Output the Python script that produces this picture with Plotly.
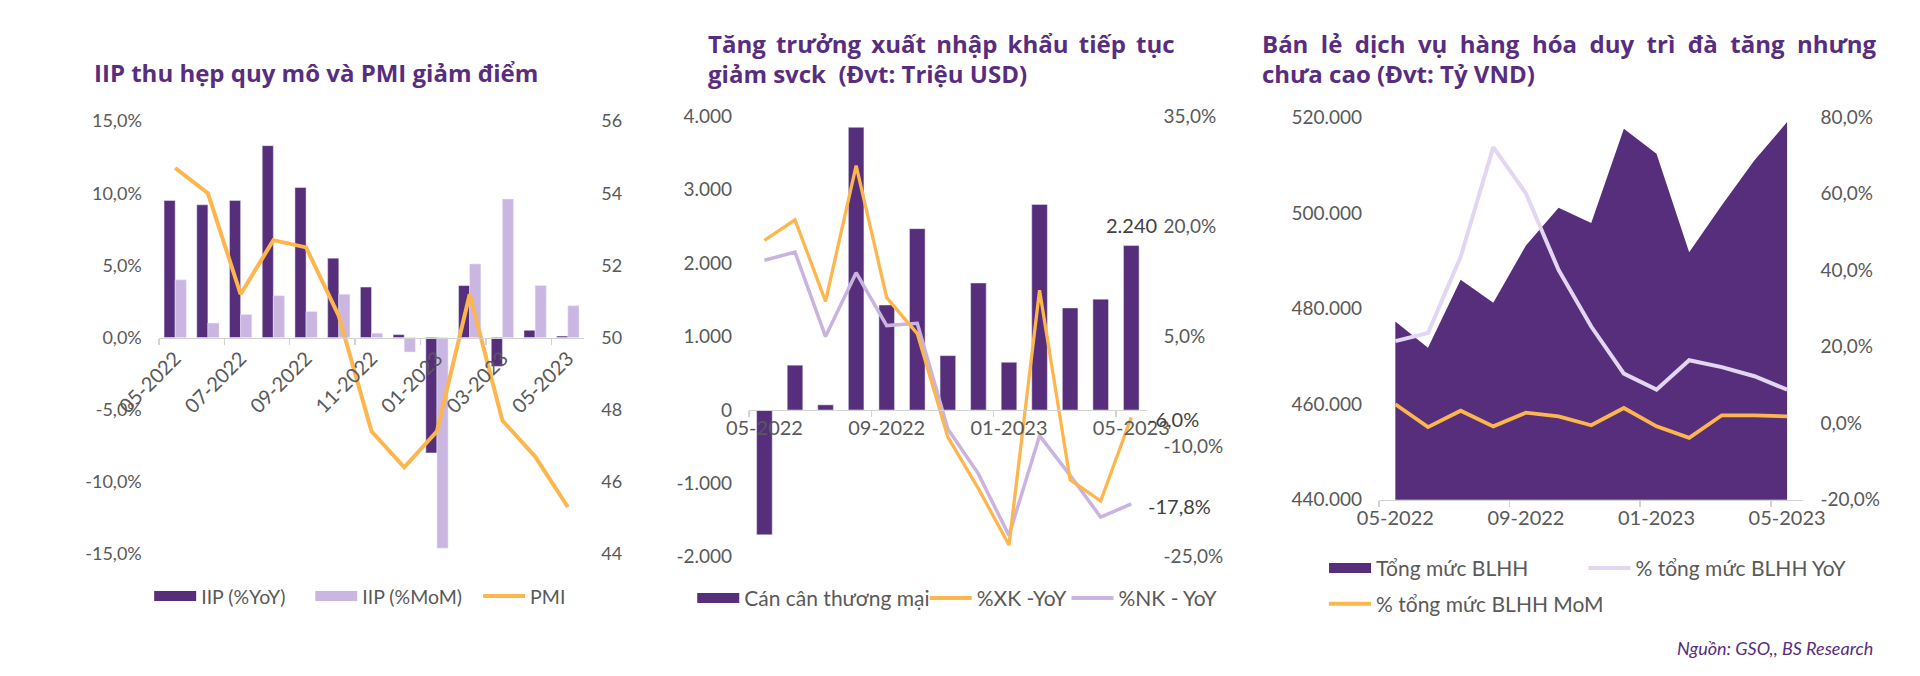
import plotly.graph_objects as go

W, H = 1920, 676

# ---------------- data ----------------
months = ["05-2022", "06-2022", "07-2022", "08-2022", "09-2022", "10-2022", "11-2022",
          "12-2022", "01-2023", "02-2023", "03-2023", "04-2023", "05-2023"]

# Chart 1: IIP & PMI
iip_yoy = [9.5, 9.2, 9.5, 13.3, 10.4, 5.5, 3.5, 0.2, -8.0, 3.6, -2.0, 0.5, 0.1]
iip_mom = [4.0, 1.0, 1.6, 2.9, 1.8, 3.0, 0.3, -1.0, -14.6, 5.1, 9.6, 3.6, 2.2]
pmi = [54.7, 54.0, 51.2, 52.7, 52.5, 50.6, 47.4, 46.4, 47.4, 51.2, 47.7, 46.7, 45.3]
c1_left_ticks = [-15, -10, -5, 0, 5, 10, 15]
c1_right_ticks = [44, 46, 48, 50, 52, 54, 56]

# Chart 2: trade
trade_balance = [-1700, 610, 70, 3850, 1430, 2470, 740, 1730, 650, 2800, 1390, 1510, 2240]
export_yoy = [18.1, 20.9, 9.8, 28.3, 10.3, 5.4, -8.7, -15.7, -23.4, 11.3, -14.5, -17.4, -6.0]
import_yoy = [15.4, 16.5, 5.0, 13.7, 6.5, 6.8, -7.6, -13.7, -22.1, -8.5, -13.9, -19.6, -17.8]
c2_left_ticks = [-2000, -1000, 0, 1000, 2000, 3000, 4000]
c2_right_ticks = [-25, -10, 5, 20, 35]

# Chart 3: retail
retail_total = [477300, 471800, 486000, 481200, 493200, 501100, 497900,
                517600, 512400, 491800, 501600, 511000, 519000]
retail_yoy = [21.5, 23.6, 43.5, 72.2, 60.1, 40.1, 25.3, 13.0, 8.8, 16.5, 14.7, 12.3, 8.8]
retail_mom = [5.0, -1.0, 3.3, -0.8, 2.8, 1.8, -0.5, 4.0, -0.8, -3.8, 2.1, 2.1, 1.8]
c3_left_ticks = [440000, 460000, 480000, 500000, 520000]
c3_right_ticks = [-20, 0, 20, 40, 60, 80]

# ---------------- styling ----------------
FONT = "Lato"
TFONT = "Open Sans"
DARK = "#572E7C"
LIGHT = "#CBB6E2"
NKCOL = "#C9B4E1"
LIGHTER = "#E2D6F1"
ORANGE = "#FDB64E"
TITLE = "#582D80"
TICK = "#595959"
AXIS = "#D3D3D3"

idx = list(range(len(months)))


def pct(v):
    return f"{v:.1f}%".replace(".", ",")


def thou(v):
    return f"{v:,.0f}".replace(",", ".")


def fx(px):
    return px / W


def fy(py):
    return 1 - py / H


def xdom(a, b):
    return [a / W, b / W]


def ydom(top, bottom):
    return [1 - bottom / H, 1 - top / H]


def zero_pos(dom, rng):
    return dom[0] + (0 - rng[0]) / (rng[1] - rng[0]) * (dom[1] - dom[0])


c1x, c1y = xdom(118, 559), ydom(113, 561)
c2x, c2y = xdom(730, 1142), ydom(108, 564)
c3x, c3y = xdom(1383, 1823), ydom(109, 505)
r1 = [min(c1_left_ticks), max(c1_left_ticks)]
r2 = [min(c2_left_ticks), max(c2_left_ticks)]

fig = go.Figure()

# ---- chart 1 ----
fig.add_trace(go.Bar(x=idx, y=iip_yoy, name="IIP (%YoY)", marker_color=DARK,
                     width=0.34, offset=-0.34, xaxis="x", yaxis="y", showlegend=False))
fig.add_trace(go.Bar(x=idx, y=iip_mom, name="IIP (%MoM)", marker_color=LIGHT,
                     width=0.34, offset=0.0, xaxis="x", yaxis="y", showlegend=False))
fig.add_trace(go.Scatter(x=idx, y=pmi, name="PMI", mode="lines",
                         line=dict(color=ORANGE, width=4), xaxis="x", yaxis="y2",
                         showlegend=False))

# ---- chart 2 ----
fig.add_trace(go.Bar(x=idx, y=trade_balance, name="Cán cân thương mại", marker_color=DARK,
                     width=0.51, xaxis="x2", yaxis="y3", showlegend=False))
fig.add_trace(go.Scatter(x=idx, y=import_yoy, name="%NK - YoY", mode="lines",
                         line=dict(color=NKCOL, width=3.5), xaxis="x2", yaxis="y4",
                         showlegend=False))
fig.add_trace(go.Scatter(x=idx, y=export_yoy, name="%XK -YoY", mode="lines",
                         line=dict(color=ORANGE, width=3.3), xaxis="x2", yaxis="y4",
                         showlegend=False))

# ---- chart 3 ----
fig.add_trace(go.Scatter(x=idx, y=retail_total, name="Tổng mức BLHH", mode="lines",
                         fill="tozeroy", fillcolor=DARK, line=dict(color=DARK, width=0),
                         xaxis="x3", yaxis="y5", showlegend=False))
fig.add_trace(go.Scatter(x=idx, y=retail_yoy, name="% tổng mức BLHH YoY", mode="lines",
                         line=dict(color=LIGHTER, width=4), xaxis="x3", yaxis="y6",
                         showlegend=False))
fig.add_trace(go.Scatter(x=idx, y=retail_mom, name="% tổng mức BLHH MoM", mode="lines",
                         line=dict(color=ORANGE, width=3.8), xaxis="x3", yaxis="y6",
                         showlegend=False))

# ---- legend entries (one legend per entry, placed like the original) ----
legend_items = [
    # name, colour, line width, symbol start x, centre y, font size
    ("IIP (%YoY)", DARK, 12, 113, 605, 19.5),
    ("IIP (%MoM)", LIGHT, 12, 280, 605, 19.5),
    ("PMI", ORANGE, 4, 454, 605, 19.5),
    ("Cán cân thương mại", DARK, 12, 676, 607, 21),
    ("%XK -YoY", ORANGE, 4, 917, 607, 21),
    ("%NK - YoY", NKCOL, 4, 1064, 607, 21),
    ("Tổng mức BLHH", DARK, 12, 1331, 576, 21),
    ("% tổng mức BLHH YoY", LIGHTER, 4, 1600, 576, 21),
    ("% tổng mức BLHH MoM", ORANGE, 4, 1331, 613, 21),
]
legend_layouts = {}
for i, (name, col, lw, sx, sy, fs) in enumerate(legend_items):
    key = "legend" if i == 0 else f"legend{i + 1}"
    fig.add_trace(go.Scatter(x=[None], y=[None], name=name, mode="lines",
                             line=dict(color=col, width=lw), xaxis="x", yaxis="y",
                             legend=key, showlegend=True))
    legend_layouts[key] = dict(
        x=fx(sx - 5), y=fy(sy), xanchor="left", yanchor="middle",
        orientation="h", bgcolor="rgba(0,0,0,0)", borderwidth=0,
        itemwidth=42, font=dict(family=FONT, size=fs, color=TICK),
        itemclick=False, itemdoubleclick=False)


def yax(dom, ticks, text, anchor, side="left", overlaying=None, size=19):
    d = dict(domain=dom, range=[min(ticks), max(ticks)], tickvals=ticks, ticktext=text,
             showgrid=False, zeroline=False, showline=False, ticks="",
             ticklabelstandoff=16, tickfont=dict(family=FONT, size=size, color=TICK),
             anchor=anchor, side=side, fixedrange=True)
    if overlaying:
        d["overlaying"] = overlaying
    return d


def xax(dom, step, angle, anchor, position=None, size=20):
    d = dict(domain=dom, range=[-0.5, len(months) - 0.5],
             tickvals=idx[::step], ticktext=months[::step], tickangle=angle,
             showgrid=False, zeroline=False, showline=True, linecolor=AXIS, linewidth=1.5,
             ticks="", tickfont=dict(family=FONT, size=size, color=TICK),
             minor=dict(tickvals=[i - 0.5 for i in idx[::step]], ticks="outside",
                        ticklen=6, tickcolor=AXIS, tickwidth=1.5, showgrid=False),
             fixedrange=True)
    if position is not None:
        d["anchor"] = "free"
        d["position"] = position
    else:
        d["anchor"] = anchor
    return d


layout = dict(
    width=W, height=H, margin=dict(l=0, r=0, t=0, b=0),
    paper_bgcolor="white", plot_bgcolor="white",
    barmode="overlay", font=dict(family=FONT, color=TICK),
    xaxis=xax(c1x, 2, -45, None, zero_pos(c1y, r1), size=20),
    yaxis=yax(c1y, c1_left_ticks, [pct(v) for v in c1_left_ticks], "x", size=18),
    yaxis2=yax(c1y, c1_right_ticks, [str(v) for v in c1_right_ticks], "x", "right", "y", size=18),
    xaxis2=xax(c2x, 4, 0, None, zero_pos(c2y, r2)),
    yaxis3=yax(c2y, c2_left_ticks, [thou(v) for v in c2_left_ticks], "x2"),
    yaxis4=yax(c2y, c2_right_ticks, [pct(v) for v in c2_right_ticks], "x2", "right", "y3"),
    xaxis3=xax(c3x, 4, 0, "y5"),
    yaxis5=yax(c3y, c3_left_ticks, [thou(v) for v in c3_left_ticks], "x3"),
    yaxis6=yax(c3y, c3_right_ticks, [pct(v) for v in c3_right_ticks], "x3", "right", "y5"),
    **legend_layouts,
)
fig.update_layout(layout)

title_font = dict(family=TFONT, size=24, color=TITLE, weight="bold")
NB = "\u00a0"
THIN = "\u2009"


def justify(text, pad):
    return (" " + pad).join(text.split(" ")) if pad else text


titles = [
    ("IIP thu hẹp quy mô và PMI giảm điểm", 49, 63, ""),
    ("Tăng trưởng xuất nhập khẩu tiếp tục", 685, 33, THIN),
    ("giảm svck  (Đvt: Triệu USD)".replace("  ", " " + NB), 685, 64, ""),
    ("Bán lẻ dịch vụ hàng hóa duy trì đà tăng nhưng", 1260, 33, NB),
    ("chưa cao (Đvt: Tỷ VND)", 1260, 64, ""),
]
for text, x, y, pad in titles:
    fig.add_annotation(text=justify(text, pad), x=fx(x), y=fy(y), xref="paper", yref="paper",
                       xanchor="left", yanchor="middle", showarrow=False, font=title_font)

# data labels for chart 2 (positioned on the data)
fig.add_annotation(text=thou(trade_balance[-1]), x=idx[-1], y=trade_balance[-1],
                   xref="x2", yref="y3", yanchor="middle", yshift=21, showarrow=False,
                   font=dict(family=FONT, size=20, color="#404040"))
fig.add_annotation(text=pct(export_yoy[-1]), x=idx[-1], y=export_yoy[-1],
                   xref="x2", yref="y4", xanchor="left", xshift=15, yshift=-2,
                   showarrow=False, font=dict(family=FONT, size=20, color="#404040"))
fig.add_annotation(text=pct(import_yoy[-1]), x=idx[-1], y=import_yoy[-1],
                   xref="x2", yref="y4", xanchor="left", xshift=15, yshift=-2,
                   showarrow=False, font=dict(family=FONT, size=20, color="#404040"))

# source
fig.add_annotation(text="Nguồn: GSO,, BS Research", x=fx(1897), y=fy(658),
                   xref="paper", yref="paper", xanchor="right", yanchor="middle",
                   showarrow=False, font=dict(family=FONT, size=18, color=TITLE, style="italic"))

fig.write_html("out.html", config={"displayModeBar": False, "staticPlot": True},
               post_script="document.body.style.margin='0';document.body.style.overflow='hidden';")
